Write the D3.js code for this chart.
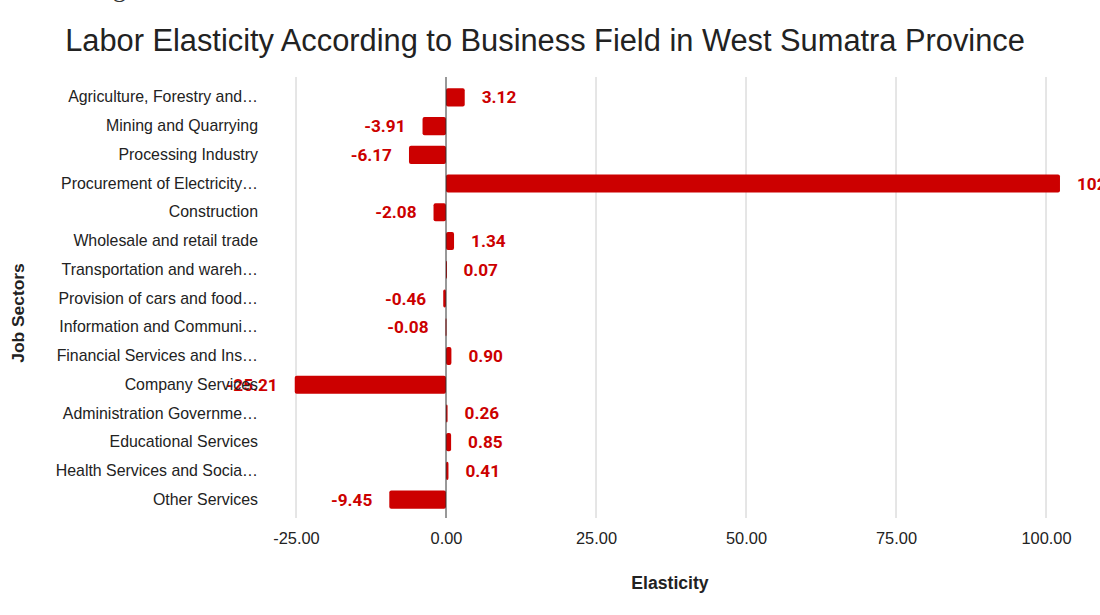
<!DOCTYPE html>
<html>
<head>
<meta charset="utf-8">
<script src="https://cdn.jsdelivr.net/npm/d3@7/dist/d3.min.js"></script>
<style>
  html, body { margin: 0; padding: 0; background: #fff; }
  svg { display: block; }
</style>
</head>
<body>
<svg id="chart" width="1100" height="615"></svg>
<script>
// Job sectors (as shown, truncated where the label area is narrow)
const sectors = [
  "Agriculture, Forestry and…",
  "Mining and Quarrying",
  "Processing Industry",
  "Procurement of Electricity…",
  "Construction",
  "Wholesale and retail trade",
  "Transportation and wareh…",
  "Provision of cars and food…",
  "Information and Communi…",
  "Financial Services and Ins…",
  "Company Services",
  "Administration Governme…",
  "Educational Services",
  "Health Services and Socia…",
  "Other Services"
];

// Labor elasticity per sector
const elasticity = [3.12, -3.91, -6.17, 102.33, -2.08, 1.34, 0.07, -0.46, -0.08, 0.90, -25.21, 0.26, 0.85, 0.41, -9.45];

// Horizontal axis ticks
const xTicks = [-25, 0, 25, 50, 75, 100];

const data = sectors.map((s, i) => ({ sector: s, value: elasticity[i] }));

const svg = d3.select("#chart");
const red = "#cc0000";
const fmt = v => d3.format(".2f")(v).replace("\u2212", "-");

// Scales
const x = d3.scaleLinear().domain([-25, 100]).range([296, 1046]);
const y = d3.scaleBand().domain(sectors).range([83, 514]).paddingInner(0.37).paddingOuter(0.185);

const gridTop = 77, gridBottom = 518;

// Fragment of a heading running off the top edge
svg.append("text")
  .attr("x", 126).attr("y", -3)
  .attr("text-anchor", "end")
  .attr("font-family", "Liberation Serif, serif")
  .attr("font-size", 26)
  .attr("fill", "#333")
  .text("Sectoral Ranking");

// Title
svg.append("text")
  .attr("x", 545).attr("y", 51)
  .attr("text-anchor", "middle")
  .attr("font-family", "Liberation Sans, Arial, sans-serif")
  .attr("font-size", 30.8)
  .attr("fill", "#222")
  .text("Labor Elasticity According to Business Field in West Sumatra Province");

// Vertical gridlines
svg.append("g").selectAll("line")
  .data(xTicks.filter(t => t !== 0))
  .join("line")
  .attr("x1", d => x(d)).attr("x2", d => x(d))
  .attr("y1", gridTop).attr("y2", gridBottom)
  .attr("stroke", "#cccccc").attr("stroke-width", 1);

// Bars
svg.append("g").selectAll("rect")
  .data(data)
  .join("rect")
  .attr("x", d => Math.min(x(0), x(d.value)))
  .attr("width", d => Math.max(1, Math.abs(x(d.value) - x(0))))
  .attr("y", d => y(d.sector))
  .attr("height", y.bandwidth())
  .attr("rx", 2)
  .attr("fill", red);

// Zero baseline
svg.append("line")
  .attr("x1", x(0)).attr("x2", x(0))
  .attr("y1", gridTop).attr("y2", gridBottom)
  .attr("stroke", "#333").attr("stroke-width", 1);

// Value labels
svg.append("g").selectAll("text")
  .data(data)
  .join("text")
  .attr("x", d => d.value >= 0 ? x(d.value) + 17 : x(d.value) - 17)
  .attr("y", d => y(d.sector) + y.bandwidth() / 2)
  .attr("dy", "0.35em")
  .attr("text-anchor", d => d.value >= 0 ? "start" : "end")
  .attr("font-family", "Roboto, sans-serif")
  .attr("font-weight", "bold")
  .attr("font-size", 17.2)
  .attr("fill", red)
  .text(d => fmt(d.value));

// Category axis labels
const yAxis = d3.axisLeft(y).tickSize(0).tickPadding(0);
const gy = svg.append("g").attr("transform", "translate(258,0)").call(yAxis);
gy.select(".domain").remove();
gy.selectAll("text")
  .attr("font-family", "Liberation Sans, Arial, sans-serif")
  .attr("font-size", 15.9)
  .attr("fill", "#222");

// Value axis labels
const xAxis = d3.axisBottom(x).tickValues(xTicks).tickSize(0).tickPadding(0).tickFormat(fmt);
const gx = svg.append("g").attr("transform", "translate(0,532)").call(xAxis);
gx.select(".domain").remove();
gx.selectAll("text")
  .attr("font-family", "Liberation Sans, Arial, sans-serif")
  .attr("font-size", 16.4)
  .attr("fill", "#222");

// Axis titles
svg.append("text")
  .attr("x", 670).attr("y", 589)
  .attr("text-anchor", "middle")
  .attr("font-family", "Liberation Sans, Arial, sans-serif")
  .attr("font-weight", "bold")
  .attr("font-size", 17.6)
  .attr("fill", "#222")
  .text("Elasticity");

svg.append("text")
  .attr("transform", "translate(24,313) rotate(-90)")
  .attr("text-anchor", "middle")
  .attr("font-family", "Liberation Sans, Arial, sans-serif")
  .attr("font-weight", "bold")
  .attr("font-size", 17.4)
  .attr("fill", "#222")
  .text("Job Sectors");
</script>
</body>
</html>
